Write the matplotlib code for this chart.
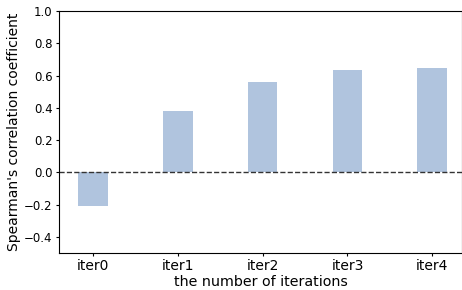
import matplotlib
matplotlib.use("Agg")
import matplotlib.pyplot as plt
import numpy as np

# data
labels = ["iter0", "iter1", "iter2", "iter3", "iter4"]
values = [-0.21, 0.38, 0.558, 0.632, 0.645]

fig = plt.figure(figsize=(4.62, 2.90), dpi=100)
ax = fig.add_axes([0.1277, 0.1276, 0.8723, 0.8344])

x = np.arange(len(labels))
ax.bar(x, values, width=0.35, color="lightsteelblue")
ax.axhline(0, color="#333333", linewidth=1.0, linestyle="--")

ax.set_xlim(-0.4, 4.35)
ax.set_ylim(-0.5, 1.0)
ax.set_xticks(x)
ax.set_xticklabels(labels, fontsize=10)
ax.set_yticks([-0.4, -0.2, 0.0, 0.2, 0.4, 0.6, 0.8, 1.0])
ax.tick_params(axis="y", labelsize=8.5)
ax.tick_params(length=2.5, width=0.8, pad=2)
ax.set_xlabel("the number of iterations", fontsize=10.3, labelpad=1)
ax.set_ylabel("Spearman's correlation coefficient", fontsize=10, labelpad=2)

fig.savefig("out.png", dpi=100)
